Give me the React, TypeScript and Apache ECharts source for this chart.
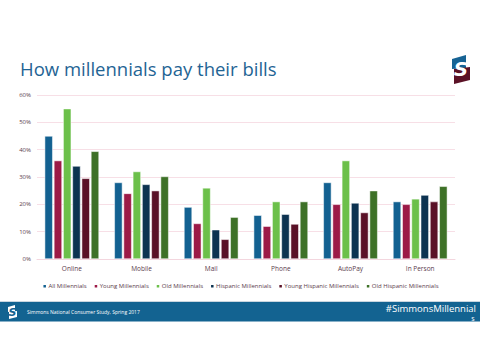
import React, { useEffect, useRef } from "react";
import * as echarts from "echarts";

const categories = ["Online", "Mobile", "Mail", "Phone", "AutoPay", "In Person"];
const seriesNames = [
  "All Millennials",
  "Young Millennials",
  "Old Millennials",
  "Hispanic Millennials",
  "Young Hispanic Millennials",
  "Old Hispanic Millennials",
];
const allMillennials = [45, 28, 19, 16, 28, 21];
const youngMillennials = [36, 24, 13, 12, 20, 20];
const oldMillennials = [55, 32, 26, 21, 36, 22];
const hispanicMillennials = [34, 27.3, 10.7, 16.4, 20.5, 23.4];
const youngHispanicMillennials = [29.5, 25, 7.2, 12.8, 17, 21];
const oldHispanicMillennials = [39.4, 30.2, 15.3, 21, 25, 26.6];
const yTicks = [0, 10, 20, 30, 40, 50, 60];
const colors = ["#136191", "#9c1a47", "#6cc04a", "#0d3351", "#5a1127", "#3e7127"];

export default function App() {
  const ref = useRef<HTMLDivElement>(null);
  useEffect(() => {
    if (!ref.current) return;
    document.body.style.margin = "0";
    const chart = echarts.init(ref.current, undefined, { renderer: "svg" });
    const data = [
      allMillennials,
      youngMillennials,
      oldMillennials,
      hispanicMillennials,
      youngHispanicMillennials,
      oldHispanicMillennials,
    ];
    const font = "'Open Sans', 'Noto Sans', sans-serif";
    chart.setOption({
      animation: false,
      backgroundColor: "#ffffff",
      textStyle: { fontFamily: font },
      grid: { left: 37, right: 25, top: 95, bottom: 101, containLabel: false },
      legend: {
        data: seriesNames,
        top: 278,
        left: "center",
        itemWidth: 4.5,
        itemHeight: 4.5,
        itemGap: 6,
        icon: "rect",
        textStyle: { fontSize: 6, color: "#5a3c4b", fontFamily: font, padding: [0, 0, 0, -3.5] },
      },
      xAxis: {
        type: "category",
        data: categories,
        axisLine: { show: true, lineStyle: { color: "#f3d6de", width: 1 } },
        axisTick: { show: false },
        axisLabel: { fontSize: 6.5, color: "#5a3c4b", margin: 6, fontFamily: font },
      },
      yAxis: {
        type: "value",
        min: yTicks[0],
        max: yTicks[yTicks.length - 1],
        interval: 10,
        axisLine: { show: false },
        axisTick: { show: false },
        splitLine: { lineStyle: { color: "#f7dfe6", width: 1 } },
        axisLabel: {
          fontSize: 6,
          color: "#5a3c4b",
          margin: 6,
          fontFamily: font,
          formatter: (v: number) => v + "%",
        },
      },
      series: seriesNames.map((name, i) => ({
        name,
        type: "bar",
        data: data[i],
        barGap: "15%",
        barCategoryGap: "22%",
        itemStyle: { color: colors[i], borderColor: "#ffffff", borderWidth: 0.5 },
      })),
      graphic: [
        {
          type: "text",
          left: 20,
          top: 59,
          style: {
            text: "How millennials pay their bills",
            fontSize: 18.5,
            fill: "#1f6494",
            fontFamily: font,
          },
        },
        {
          type: "polygon",
          shape: { points: [[452, 59], [466, 55], [466, 68], [452, 69]] },
          style: { fill: "#176394" },
        },
        {
          type: "polygon",
          shape: { points: [[454, 69], [470, 67], [470, 80], [454, 84]] },
          style: { fill: "#5b1226" },
        },
        {
          type: "text",
          x: 461,
          y: 69,
          style: {
            text: "S",
            fontSize: 20,
            fontWeight: "bold",
            fontStyle: "italic",
            fill: "#ffffff",
            align: "center",
            verticalAlign: "middle",
            fontFamily: "'DejaVu Sans', sans-serif",
          },
        },
        {
          type: "rect",
          shape: { x: 0, y: 301, width: 480, height: 1 },
          style: { fill: "#c9d6df" },
        },
        {
          type: "rect",
          shape: { x: 0, y: 302, width: 480, height: 19.5 },
          style: { fill: "#136391" },
        },
        {
          type: "polygon",
          shape: { points: [[8, 307], [15, 305], [15, 311], [8, 312]] },
          style: { fill: "#ffffff" },
        },
        {
          type: "polygon",
          shape: { points: [[9, 312], [17, 311], [17, 317], [9, 319]] },
          style: { fill: "#ffffff" },
        },
        {
          type: "text",
          x: 12.5,
          y: 312,
          style: {
            text: "S",
            fontSize: 11,
            fontWeight: "bold",
            fontStyle: "italic",
            fill: "#136391",
            align: "center",
            verticalAlign: "middle",
            fontFamily: "'DejaVu Sans', sans-serif",
          },
        },
        {
          type: "text",
          x: 27,
          y: 312,
          style: {
            text: "Simmons National Consumer Study, Spring 2017",
            fontSize: 5,
            fill: "#ffffff",
            verticalAlign: "middle",
            fontFamily: font,
          },
        },
        {
          type: "text",
          x: 476,
          y: 308,
          style: {
            text: "#SimmonsMillennial",
            fontSize: 9.5,
            fill: "#ffffff",
            align: "right",
            verticalAlign: "middle",
            fontFamily: font,
          },
        },
        {
          type: "text",
          x: 473,
          y: 318,
          style: {
            text: "s",
            fontSize: 7,
            fill: "#ffffff",
            align: "center",
            verticalAlign: "middle",
            fontFamily: font,
          },
        },
      ],
    });
    return () => chart.dispose();
  }, []);
  return <div ref={ref} style={{ width: 480, height: 360 }} />;
}
